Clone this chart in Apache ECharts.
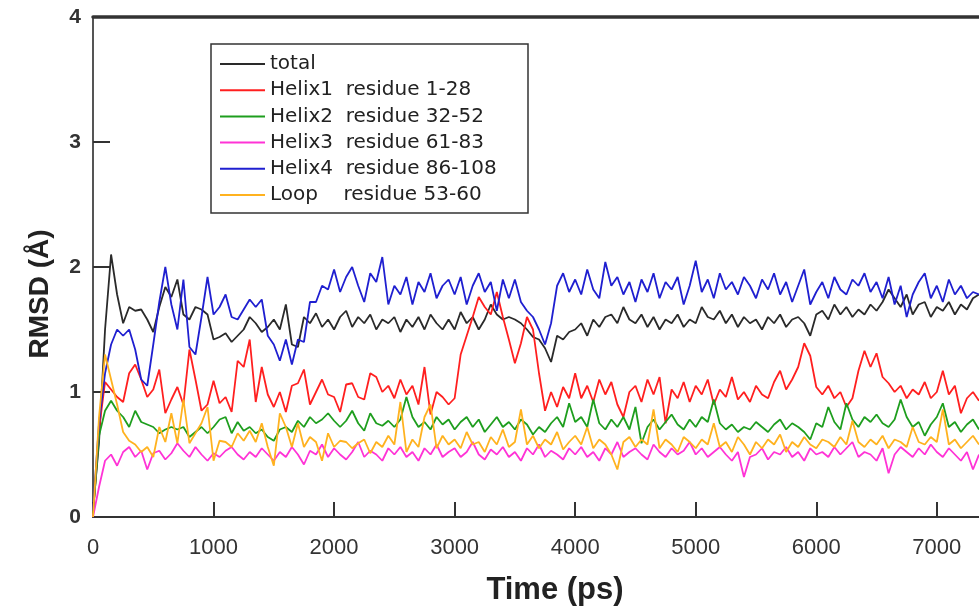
<!DOCTYPE html>
<html>
<head>
<meta charset="utf-8">
<script src="https://cdn.jsdelivr.net/npm/echarts@6/dist/echarts.min.js"></script>
<style>
html,body{margin:0;padding:0;background:#fff;}
#chart{width:979px;height:607px;}
</style>
</head>
<body>
<div id="chart"></div>
<script>
const time = [
0,50,100,150,200,250,300,350,400,450,
500,550,600,650,700,750,800,850,900,950,
1000,1050,1100,1150,1200,1250,1300,1350,1400,1450,
1500,1550,1600,1650,1700,1750,1800,1850,1900,1950,
2000,2050,2100,2150,2200,2250,2300,2350,2400,2450,
2500,2550,2600,2650,2700,2750,2800,2850,2900,2950,
3000,3050,3100,3150,3200,3250,3300,3350,3400,3450,
3500,3550,3600,3650,3700,3750,3800,3850,3900,3950,
4000,4050,4100,4150,4200,4250,4300,4350,4400,4450,
4500,4550,4600,4650,4700,4750,4800,4850,4900,4950,
5000,5050,5100,5150,5200,5250,5300,5350,5400,5450,
5500,5550,5600,5650,5700,5750,5800,5850,5900,5950,
6000,6050,6100,6150,6200,6250,6300,6350,6400,6450,
6500,6550,6600,6650,6700,6750,6800,6850,6900,6950,
7000,7050,7100,7150,7200,7250,7300,7350];

const total = [
0.05,0.6,1.5,2.1,1.78,1.55,1.68,1.65,1.66,1.58,
1.48,1.68,1.84,1.76,1.9,1.62,1.58,1.68,1.66,1.62,
1.42,1.44,1.47,1.40,1.45,1.5,1.6,1.55,1.48,1.52,
1.58,1.50,1.70,1.38,1.36,1.6,1.55,1.63,1.52,1.58,
1.5,1.6,1.65,1.52,1.6,1.55,1.62,1.5,1.58,1.55,
1.6,1.48,1.58,1.52,1.6,1.5,1.62,1.55,1.5,1.58,
1.5,1.64,1.55,1.6,1.5,1.58,1.7,1.62,1.58,1.6,
1.58,1.55,1.5,1.44,1.42,1.35,1.24,1.45,1.42,1.48,
1.5,1.55,1.45,1.58,1.52,1.6,1.62,1.55,1.68,1.58,
1.55,1.62,1.52,1.6,1.5,1.58,1.55,1.62,1.52,1.58,
1.55,1.68,1.6,1.58,1.65,1.55,1.62,1.52,1.6,1.55,
1.58,1.5,1.6,1.55,1.62,1.52,1.58,1.6,1.55,1.45,
1.62,1.65,1.58,1.7,1.62,1.68,1.6,1.66,1.62,1.7,
1.65,1.72,1.82,1.75,1.68,1.78,1.62,1.7,1.72,1.6,
1.68,1.65,1.72,1.62,1.7,1.66,1.75,1.78];

const helix1 = [
0.02,0.7,1.08,1.02,0.96,0.92,1.15,1.22,1.1,0.96,
1.02,1.18,0.83,0.94,1.04,0.9,1.34,1.1,0.85,0.9,
1.09,0.91,0.96,0.84,1.25,1.2,1.42,0.92,1.2,0.98,
0.88,1.0,0.84,1.05,1.07,1.18,0.9,1.0,1.1,0.98,
0.96,0.84,1.06,1.07,0.96,0.94,1.15,1.12,1.0,1.05,
0.95,1.1,0.98,1.05,0.9,1.2,0.82,1.0,0.96,0.9,
0.95,1.3,1.45,1.6,1.76,1.68,1.62,1.8,1.6,1.42,
1.23,1.39,1.6,1.5,1.15,0.85,1.0,0.88,1.04,0.95,
1.15,0.95,1.05,0.92,1.1,0.98,1.08,0.9,0.8,1.0,
1.05,0.92,1.1,0.98,1.12,0.75,1.02,0.95,1.08,0.92,
1.05,0.98,1.1,0.9,1.02,0.96,1.12,0.94,1.0,0.92,
1.05,0.98,0.95,1.08,1.17,1.02,1.1,1.2,1.39,1.29,
1.04,0.98,1.05,0.95,1.0,0.88,0.95,1.17,1.33,1.2,
1.31,1.12,1.07,1.0,1.05,0.95,1.02,0.98,1.08,0.95,
1.0,1.17,0.98,1.05,0.83,0.95,1.0,0.93];

const helix2 = [
0.02,0.65,0.85,0.93,0.85,0.8,0.72,0.85,0.76,0.74,
0.72,0.67,0.7,0.72,0.7,0.72,0.64,0.68,0.72,0.67,
0.72,0.78,0.8,0.67,0.76,0.69,0.72,0.67,0.7,0.64,
0.61,0.7,0.72,0.68,0.77,0.72,0.8,0.75,0.78,0.83,
0.77,0.72,0.77,0.85,0.75,0.69,0.83,0.75,0.73,0.77,
0.72,0.78,0.96,0.8,0.72,0.76,0.7,0.8,0.74,0.78,
0.7,0.76,0.8,0.72,0.78,0.68,0.74,0.8,0.72,0.76,
0.7,0.78,0.74,0.66,0.72,0.68,0.75,0.8,0.72,0.91,
0.76,0.8,0.72,0.94,0.75,0.7,0.78,0.72,0.8,0.7,
0.88,0.59,0.72,0.78,0.7,0.76,0.82,0.74,0.7,0.78,
0.72,0.8,0.76,0.94,0.75,0.7,0.74,0.68,0.72,0.7,
0.76,0.72,0.68,0.74,0.78,0.7,0.75,0.72,0.68,0.62,
0.75,0.72,0.88,0.76,0.7,0.91,0.78,0.72,0.8,0.76,
0.82,0.75,0.72,0.78,0.94,0.8,0.72,0.76,0.65,0.74,
0.8,0.91,0.72,0.76,0.68,0.74,0.78,0.7];

const helix3 = [
0.0,0.24,0.45,0.5,0.41,0.52,0.56,0.48,0.53,0.38,
0.51,0.53,0.46,0.51,0.59,0.53,0.48,0.56,0.5,0.45,
0.51,0.48,0.53,0.56,0.5,0.46,0.52,0.48,0.55,0.5,
0.45,0.52,0.48,0.56,0.5,0.42,0.53,0.5,0.58,0.48,
0.55,0.5,0.46,0.52,0.6,0.48,0.53,0.5,0.45,0.55,
0.5,0.56,0.48,0.52,0.45,0.55,0.5,0.58,0.48,0.52,
0.55,0.48,0.52,0.6,0.5,0.46,0.54,0.5,0.56,0.48,
0.52,0.45,0.55,0.5,0.58,0.48,0.53,0.5,0.46,0.55,
0.5,0.56,0.48,0.52,0.45,0.55,0.5,0.6,0.48,0.52,
0.55,0.5,0.46,0.58,0.52,0.48,0.55,0.5,0.53,0.6,
0.5,0.55,0.48,0.52,0.56,0.5,0.45,0.52,0.32,0.48,
0.5,0.55,0.46,0.52,0.5,0.56,0.48,0.52,0.45,0.55,
0.5,0.52,0.48,0.56,0.5,0.55,0.6,0.48,0.52,0.5,
0.45,0.55,0.35,0.5,0.56,0.52,0.48,0.55,0.5,0.58,
0.52,0.48,0.55,0.5,0.45,0.52,0.38,0.5];

const helix4 = [
0.05,0.75,1.15,1.38,1.5,1.45,1.5,1.34,1.1,1.05,
1.38,1.72,2.0,1.7,1.5,1.9,1.36,1.3,1.6,1.92,
1.62,1.68,1.78,1.6,1.58,1.66,1.74,1.68,1.74,1.45,
1.38,1.25,1.42,1.22,1.42,1.4,1.72,1.72,1.85,1.82,
1.98,1.8,1.92,2.0,1.85,1.72,1.95,1.88,2.08,1.7,
1.85,1.78,1.92,1.7,1.88,1.8,1.95,1.75,1.85,1.9,
1.78,1.92,1.7,1.85,1.95,1.8,1.88,1.65,1.9,1.75,
1.9,1.72,1.65,1.6,1.5,1.38,1.55,1.85,1.95,1.8,
1.9,1.78,1.98,1.82,1.75,2.04,1.85,1.92,1.78,1.88,
1.72,1.9,1.8,1.95,1.75,1.88,1.82,1.92,1.7,1.85,
2.05,1.8,1.9,1.75,1.95,1.82,1.88,1.78,1.92,1.85,
1.75,1.9,1.82,1.95,1.78,1.88,1.72,1.85,1.98,1.7,
1.8,1.88,1.75,1.92,1.82,1.78,1.9,1.85,1.95,1.8,
1.88,1.75,1.92,1.7,1.85,1.6,1.78,1.88,1.95,1.75,
1.85,1.72,1.9,1.78,1.85,1.75,1.8,1.78];

const loop = [
0.0,0.8,1.3,1.1,0.9,0.68,0.61,0.58,0.52,0.56,
0.48,0.72,0.6,0.83,0.59,0.94,0.59,0.67,0.75,0.88,
0.45,0.61,0.6,0.56,0.67,0.61,0.69,0.6,0.75,0.56,
0.41,0.83,0.72,0.56,0.75,0.56,0.64,0.6,0.45,0.67,
0.56,0.61,0.6,0.55,0.59,0.62,0.51,0.6,0.56,0.65,
0.58,0.92,0.52,0.62,0.56,0.8,0.9,0.55,0.65,0.58,
0.62,0.55,0.68,0.58,0.6,0.52,0.64,0.58,0.7,0.56,
0.6,0.86,0.58,0.65,0.55,0.62,0.58,0.68,0.54,0.6,
0.65,0.58,0.72,0.55,0.62,0.58,0.5,0.38,0.6,0.64,
0.56,0.62,0.58,0.86,0.55,0.62,0.58,0.52,0.64,0.6,
0.55,0.62,0.58,0.75,0.56,0.6,0.52,0.64,0.58,0.5,
0.6,0.55,0.62,0.58,0.66,0.52,0.6,0.56,0.64,0.58,
0.55,0.62,0.6,0.56,0.64,0.58,0.77,0.6,0.56,0.62,
0.58,0.65,0.55,0.62,0.6,0.56,0.72,0.6,0.58,0.64,
0.6,0.86,0.58,0.62,0.55,0.6,0.65,0.58];

const seriesNames = ['total','Helix1  residue 1-28','Helix2  residue 32-52','Helix3  residue 61-83','Helix4  residue 86-108','Loop    residue 53-60'];
const seriesValues = [total, helix1, helix2, helix3, helix4, loop];
const seriesColors = ['#2a2a2a','#ff1f1f','#1e9e1e','#ff33d6','#1f1fd0','#ffb21f'];
const xTicks = {min:0, max:7350, interval:1000};
const yTicks = {min:0, max:4, interval:1};
const FONT = 'Liberation Sans, Arial, sans-serif';
const LEGEND_FONT = 'DejaVu Sans, sans-serif';

const chart = echarts.init(document.getElementById('chart'), null, {renderer:'canvas'});
chart.setOption({
  animation:false,
  backgroundColor:'#fff',
  grid:{left:93, right:0, top:17, bottom:90, containLabel:false},
  legend:{
    orient:'vertical', left:211, top:44,
    padding:[10,8,8,9],
    icon:'rect',
    itemWidth:45, itemHeight:2, itemGap:6.2, itemTextGap:10,
    borderColor:'#333', borderWidth:1.5, backgroundColor:'#fff',
    selectedMode:false,
    textStyle:{fontFamily:LEGEND_FONT, fontSize:20, color:'#222', lineHeight:20, width:250},
    data:seriesNames
  },
  xAxis:[{
    type:'value', min:xTicks.min, max:xTicks.max, interval:xTicks.interval,
    position:'bottom',
    axisLine:{onZero:false, lineStyle:{color:'#333', width:2}},
    axisTick:{inside:true, length:15, lineStyle:{color:'#333', width:2}},
    axisLabel:{margin:20, fontFamily:FONT, fontSize:22, color:'#333', showMaxLabel:false,
      formatter:function(v){return String(v);}},
    splitLine:{show:false}
  },{
    type:'value', min:xTicks.min, max:xTicks.max, position:'top',
    axisLine:{show:true, onZero:false, lineStyle:{color:'#333', width:3.5}},
    axisTick:{show:false}, axisLabel:{show:false}, splitLine:{show:false}
  }],
  yAxis:{
    type:'value', min:yTicks.min, max:yTicks.max, interval:yTicks.interval,
    axisLine:{show:true, onZero:false, lineStyle:{color:'#555', width:2}},
    axisTick:{inside:true, length:17, lineStyle:{color:'#333', width:2}},
    axisLabel:{margin:12, fontFamily:FONT, fontSize:21, fontWeight:'bold', color:'#333'},
    splitLine:{show:false}
  },
  graphic:[{
    type:'text', x:40, y:294, rotation:Math.PI/2,
    style:{text:'RMSD (Å)', font:'bold 28px Liberation Sans, Arial, sans-serif', fill:'#222', textAlign:'center', textVerticalAlign:'middle'}
  },{
    type:'text', x:555, y:590,
    style:{text:'Time (ps)', font:'bold 31px Liberation Sans, Arial, sans-serif', fill:'#222', textAlign:'center', textVerticalAlign:'middle'}
  }],
  series: seriesNames.map((n,i)=>({
    name:n, type:'line', xAxisIndex:0, symbol:'none',
    lineStyle:{color:seriesColors[i], width:1.8},
    itemStyle:{color:seriesColors[i]},
    data: time.map((t,k)=>[t, seriesValues[i][k]])
  }))
});
</script>
</body>
</html>
